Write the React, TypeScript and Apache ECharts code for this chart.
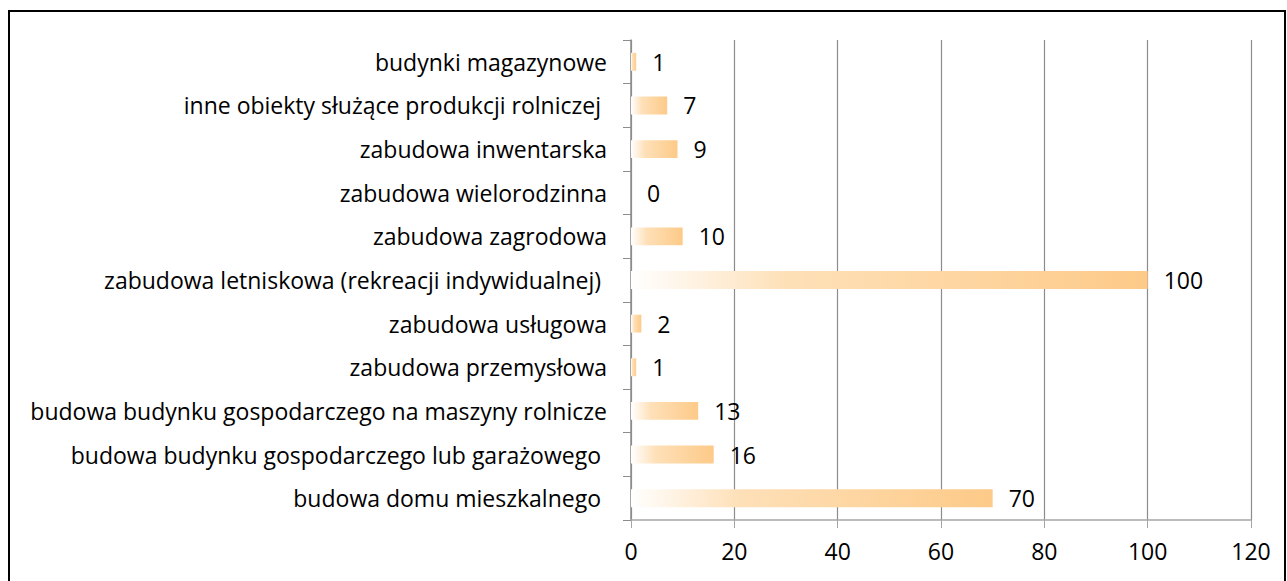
import React, { useEffect, useRef } from "react";
import * as echarts from "echarts";

const categories = [
  "budowa domu mieszkalnego ",
  "budowa budynku gospodarczego lub garażowego ",
  "budowa budynku gospodarczego na maszyny rolnicze",
  "zabudowa przemysłowa",
  "zabudowa usługowa",
  "zabudowa letniskowa (rekreacji indywidualnej) ",
  "zabudowa zagrodowa",
  "zabudowa wielorodzinna",
  "zabudowa inwentarska",
  "inne obiekty służące produkcji rolniczej ",
  "budynki magazynowe",
];
const values = [70, 16, 13, 1, 2, 100, 10, 0, 9, 7, 1];
const xTicks = { min: 0, max: 120, interval: 20 };

export default function App() {
  const ref = useRef<HTMLDivElement>(null);
  useEffect(() => {
    if (!ref.current) return;
    const chart = echarts.init(ref.current, undefined, { renderer: "svg" });
    const font = "Open Sans";
    chart.setOption({
      animation: false,
      grid: { left: 621, right: 33, top: 28, bottom: 88, containLabel: false },
      xAxis: {
        type: "value",
        min: xTicks.min,
        max: xTicks.max,
        interval: xTicks.interval,
        axisLine: { show: true, lineStyle: { color: "#a6a6a6", width: 1.5 } },
        axisTick: { show: true, length: 8, lineStyle: { color: "#a6a6a6" } },
        splitLine: { show: true, lineStyle: { color: "#8c8c8c", width: 1.2 } },
        axisLabel: { color: "#000", fontSize: 23, fontFamily: font, margin: 19 },
      },
      yAxis: {
        type: "category",
        data: categories,
        axisLine: { show: true, lineStyle: { color: "#8c8c8c", width: 1.5 } },
        axisTick: { show: true, length: 8, lineStyle: { color: "#8c8c8c" } },
        axisLabel: { color: "#000", fontSize: 23, fontFamily: font, margin: 24 },
      },
      series: [
        {
          type: "bar",
          data: values,
          barWidth: "41%",
          itemStyle: {
            color: new echarts.graphic.LinearGradient(0, 0, 1, 0, [
              { offset: 0, color: "#ffffff" },
              { offset: 0.3, color: "#fee0b8" },
              { offset: 1, color: "#fdca88" },
            ]),
          },
          label: {
            show: true,
            position: "right",
            distance: 16,
            color: "#000",
            fontSize: 23,
            fontFamily: font,
          },
        },
      ],
    });
    return () => chart.dispose();
  }, []);
  return (
    <div
      style={{
        position: "absolute",
        left: 8,
        top: 10,
        width: 1278,
        height: 600,
        border: "2px solid #000",
        boxSizing: "border-box",
        background: "#fff",
      }}
    >
      <div ref={ref} style={{ width: "100%", height: "100%" }} />
    </div>
  );
}
